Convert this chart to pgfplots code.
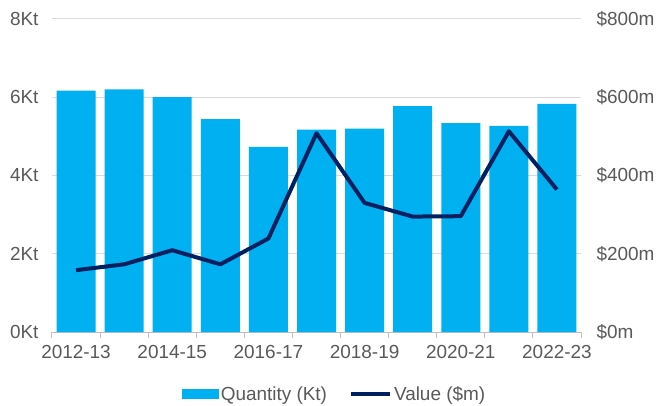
\documentclass[border=0pt]{standalone}
\usepackage{pgfplots}
\pgfplotsset{compat=1.18}
\usepackage{fontspec}
\setmainfont{Liberation Sans}
\definecolor{barc}{HTML}{00B0F0}
\definecolor{linec}{HTML}{002060}
\definecolor{txt}{HTML}{595959}
\definecolor{gridc}{HTML}{D9D9D9}
\definecolor{axc}{HTML}{BFBFBF}
\begin{document}
\begin{tikzpicture}
\pgfplotsset{every axis/.append style={
  scale only axis, width=529bp, height=313bp,
  xmin=-0.5, xmax=10.5,
  font=\fontsize{19}{22}\selectfont,
  tick label style={font=\fontsize{19}{22}\selectfont, text=txt},
  /pgf/number format/assume math mode=true,
}}
\begin{axis}[
  at={(0,0)}, anchor=south west,
  ymin=0, ymax=8,
  ytick={0,2,4,6,8},
  yticklabels={0Kt,2Kt,4Kt,6Kt,8Kt},
  ymajorgrids, grid style={gridc, line width=1bp},
  axis x line*=bottom, axis y line*=left,
  y axis line style={draw=none},
  x axis line style={axc, line width=1bp, -},
  xtick={0,2,4,6,8,10},
  xticklabels={2012-13,2014-15,2016-17,2018-19,2020-21,2022-23},
  minor xtick={-0.5,0.5,...,10.5},
  major tick length=0pt,
  minor tick length=6bp,
  tick align=outside,
  minor tick style={axc, line width=1bp},
  xticklabel style={yshift=-10bp},
  yticklabel style={xshift=-10bp},
  ytick style={draw=none},
  ybar, bar width=39bp,
  legend style={at={(0.5,0)}, anchor=center, xshift=18bp, yshift=-62bp, draw=none, fill=none,
    legend columns=2, column sep=0bp, text=txt, font=\fontsize{19}{22}\selectfont,
    /tikz/every even column/.append style={column sep=20bp}},
  legend cell align=left,
]
\addplot[fill=barc, draw=none,
  legend image code/.code={\fill[barc] (0bp,-5bp) rectangle (37bp,5bp);}]
  coordinates {(0,6.17) (1,6.20) (2,6.00) (3,5.44) (4,4.73) (5,5.17) (6,5.20) (7,5.77) (8,5.34) (9,5.27) (10,5.83)};
\addlegendentry{Quantity (Kt)}
\addlegendimage{linec, line width=4bp, legend image code/.code={\draw[linec, line width=4bp] (0bp,0bp) -- (39bp,0bp);}}
\addlegendentry{Value (\$m)}
\end{axis}
\begin{axis}[
  at={(0,0)}, anchor=south west,
  ymin=0, ymax=800,
  ytick={0,200,400,600,800},
  yticklabels={\$0m,\$200m,\$400m,\$600m,\$800m},
  axis y line*=right, axis x line=none,
  y axis line style={draw=none},
  ytick style={draw=none},
  yticklabel style={xshift=12bp},
]
\addplot[linec, line width=4bp, line join=round, mark=none]
  coordinates {(0,158) (1,173) (2,209) (3,173) (4,239) (5,508) (6,330) (7,295) (8,296) (9,513) (10,364)};
\end{axis}
\pgfresetboundingbox
\useasboundingbox (-52bp,-74bp) rectangle (605bp,332bp);
\end{tikzpicture}
\end{document}
